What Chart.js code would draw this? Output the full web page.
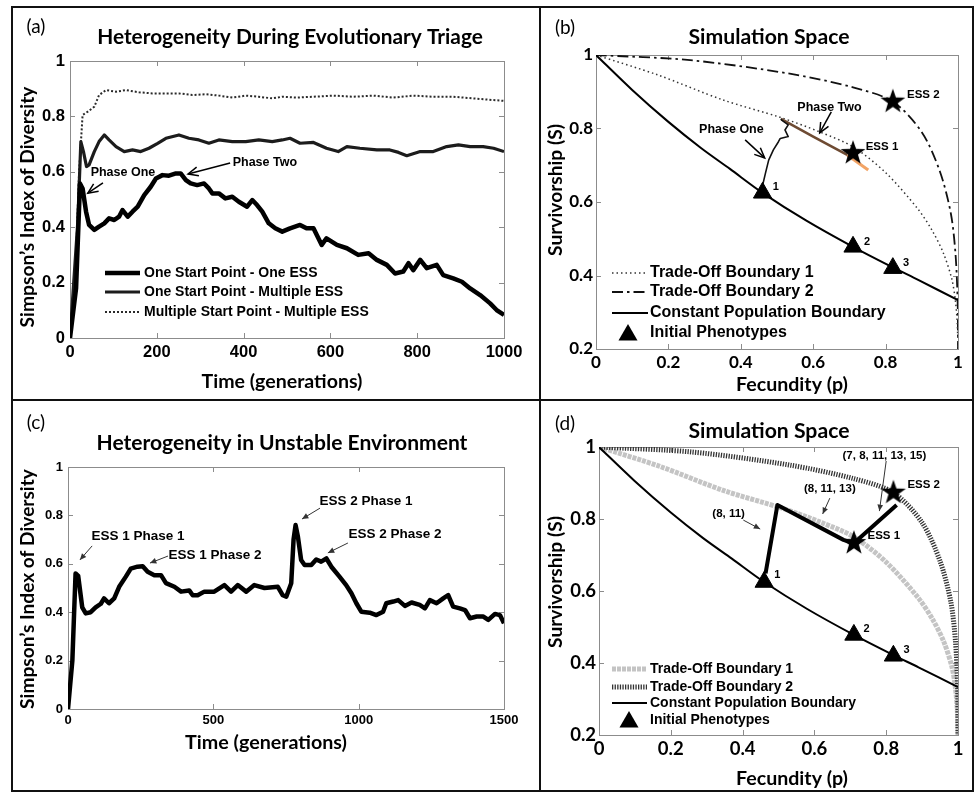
<!DOCTYPE html>
<html>
<head>
<meta charset="utf-8">
<script src="https://cdn.jsdelivr.net/npm/chart.js@4.4.1/dist/chart.umd.min.js"></script>
<style>
  body { margin: 0; background: #fff; }
  #fig { position: relative; width: 976px; height: 794px; }
  #fig canvas { position: absolute; }
  .rule { position: absolute; background: #111; }
</style>
</head>
<body>
<div id="fig">
  <div class="rule" style="left:11px;top:6px;width:963px;height:2px"></div>
  <div class="rule" style="left:11px;top:790px;width:963px;height:2px"></div>
  <div class="rule" style="left:11px;top:6px;width:2px;height:786px"></div>
  <div class="rule" style="left:972px;top:6px;width:2px;height:786px"></div>
  <div class="rule" style="left:539px;top:6px;width:2px;height:786px"></div>
  <div class="rule" style="left:11px;top:399px;width:963px;height:2px"></div>
  <canvas id="chA" width="526" height="391" style="left:13px;top:8px"></canvas>
  <canvas id="chB" width="431" height="391" style="left:541px;top:8px"></canvas>
  <canvas id="chC" width="526" height="389" style="left:13px;top:401px"></canvas>
  <canvas id="chD" width="431" height="389" style="left:541px;top:401px"></canvas>
</div>
<script>
/* diversity runs (a) */
var tOneEss = [0, 14, 23, 29, 37, 44, 56, 67, 79, 90, 102, 113, 121, 133, 144, 156, 171, 186, 198, 213, 228, 244, 255, 267, 278, 293, 309, 320, 328, 343, 358, 374, 389, 408, 420, 431, 443, 458, 473, 489, 507, 530, 545, 561, 580, 591, 615, 638, 664, 688, 707, 730, 749, 768, 780, 791, 807, 822, 845, 860, 883, 903, 922, 945, 968, 983, 1000];
var oneEss = [0, 0.18, 0.558, 0.54, 0.456, 0.408, 0.39, 0.402, 0.414, 0.432, 0.426, 0.438, 0.462, 0.438, 0.456, 0.474, 0.516, 0.546, 0.576, 0.588, 0.586, 0.594, 0.594, 0.57, 0.558, 0.552, 0.558, 0.54, 0.522, 0.522, 0.504, 0.51, 0.492, 0.474, 0.498, 0.48, 0.456, 0.414, 0.396, 0.384, 0.396, 0.408, 0.396, 0.396, 0.336, 0.36, 0.336, 0.324, 0.30, 0.306, 0.282, 0.264, 0.233, 0.24, 0.27, 0.245, 0.282, 0.252, 0.264, 0.227, 0.215, 0.203, 0.179, 0.155, 0.125, 0.101, 0.083];

var tMultiEss = [0, 18, 25, 31, 38, 44, 56, 67, 79, 90, 106, 125, 144, 163, 182, 202, 221, 251, 274, 297, 320, 343, 374, 405, 435, 466, 489, 507, 530, 561, 591, 618, 638, 668, 707, 737, 757, 776, 807, 837, 868, 895, 922, 952, 976, 1000];
var multiEss = [0, 0.42, 0.709, 0.673, 0.619, 0.625, 0.673, 0.709, 0.733, 0.715, 0.691, 0.673, 0.679, 0.673, 0.685, 0.703, 0.721, 0.733, 0.721, 0.715, 0.703, 0.715, 0.709, 0.709, 0.715, 0.709, 0.715, 0.721, 0.703, 0.706, 0.685, 0.673, 0.691, 0.685, 0.679, 0.679, 0.67, 0.658, 0.673, 0.673, 0.691, 0.697, 0.691, 0.691, 0.685, 0.673];

var tMultiStart = [0, 14, 21, 29, 41, 56, 67, 83, 106, 129, 159, 190, 221, 251, 282, 313, 343, 374, 405, 435, 466, 489, 522, 561, 607, 653, 699, 745, 791, 837, 883, 929, 976, 1000];
var multiStart = [0, 0.30, 0.60, 0.805, 0.817, 0.835, 0.877, 0.895, 0.889, 0.895, 0.887, 0.883, 0.883, 0.883, 0.877, 0.88, 0.875, 0.868, 0.875, 0.871, 0.865, 0.871, 0.868, 0.871, 0.875, 0.871, 0.875, 0.868, 0.875, 0.871, 0.871, 0.865, 0.859, 0.856];

/* unstable environment run (c) */
var tUnstable = [0, 15, 26, 35, 49, 61, 78, 95, 113, 124, 141, 159, 176, 199, 216, 239, 257, 274, 297, 320, 337, 366, 389, 417, 429, 446, 469, 503, 538, 561, 584, 613, 641, 676, 722, 739, 751, 768, 776, 783, 791, 802, 814, 837, 854, 871, 889, 906, 934, 957, 975, 992, 1009, 1038, 1061, 1084, 1095, 1119, 1136, 1159, 1182, 1210, 1228, 1245, 1268, 1291, 1308, 1325, 1348, 1366, 1383, 1406, 1429, 1446, 1469, 1486, 1500];
var unstable = [0, 0.2, 0.56, 0.55, 0.42, 0.395, 0.40, 0.42, 0.435, 0.457, 0.437, 0.457, 0.505, 0.547, 0.58, 0.588, 0.59, 0.567, 0.553, 0.553, 0.52, 0.505, 0.485, 0.49, 0.47, 0.47, 0.485, 0.485, 0.512, 0.485, 0.512, 0.485, 0.512, 0.5, 0.505, 0.47, 0.464, 0.52, 0.70, 0.76, 0.712, 0.616, 0.595, 0.595, 0.618, 0.609, 0.622, 0.588, 0.547, 0.512, 0.478, 0.437, 0.402, 0.398, 0.388, 0.402, 0.437, 0.444, 0.45, 0.426, 0.44, 0.43, 0.416, 0.45, 0.437, 0.457, 0.471, 0.423, 0.416, 0.409, 0.375, 0.382, 0.382, 0.368, 0.393, 0.388, 0.354];

/* simulation space (b, d) */
var pTrade1 = [0, 0.17, 0.35, 0.51, 0.62, 0.71, 0.80, 0.89, 0.93, 0.96, 0.983, 0.993, 0.998, 1.0];
var sTrade1 = [1, 0.946, 0.878, 0.83, 0.79, 0.75, 0.68, 0.58, 0.52, 0.46, 0.39, 0.33, 0.27, 0.2];
var pTrade2 = [0, 0.26, 0.53, 0.71, 0.82, 0.90, 0.95, 0.98, 0.993, 0.999, 1.0];
var sTrade2 = [1, 0.986, 0.95, 0.912, 0.873, 0.79, 0.683, 0.57, 0.46, 0.33, 0.2];
var pConst = [0, 0.1, 0.2, 0.29, 0.37, 0.46, 0.58, 0.71, 0.82, 0.89, 1.0];
var sConst = [1, 0.905, 0.818, 0.747, 0.69, 0.625, 0.55, 0.478, 0.422, 0.388, 0.333];
var pInit = [0.46, 0.71, 0.82];
var sInit = [0.625, 0.478, 0.42];
var pEss = [0.71, 0.82];
var sEss = [0.733, 0.873];

var pPhaseOne = [0.459, 0.468, 0.477, 0.49, 0.504, 0.509, 0.531, 0.522, 0.531, 0.513, 0.511];
var sPhaseOne = [0.64, 0.678, 0.714, 0.742, 0.764, 0.773, 0.778, 0.796, 0.81, 0.823, 0.826];
var pPhaseTwo = [0.511, 0.60, 0.694];
var sPhaseTwo = [0.826, 0.778, 0.728];
var pPhaseEnd = [0.694, 0.752];
var sPhaseEnd = [0.728, 0.687];
var pPathD = [0.464, 0.497, 0.681, 0.709, 0.829];
var sPathD = [0.649, 0.839, 0.742, 0.732, 0.839];

var ARIAL = '"Liberation Sans", Arial, sans-serif';
var LATO = 'Lato, "Open Sans", sans-serif';

function pts(xs, ys) {
  return xs.map(function (x, i) { return {x: x, y: ys[i]}; });
}

// filled five-point star used for the ESS markers
function makeStar(r) {
  var c = document.createElement('canvas');
  c.width = c.height = 2 * r + 2;
  var g = c.getContext('2d');
  g.beginPath();
  for (var i = 0; i < 10; i++) {
    var rad = i % 2 ? r * 0.4 : r;
    var a = -Math.PI / 2 + i * Math.PI / 5;
    g.lineTo(r + 1 + rad * Math.cos(a), r + 1 + rad * Math.sin(a));
  }
  g.closePath();
  g.fillStyle = '#000';
  g.fill();
  return c;
}
var star = makeStar(13);

// line styles, shared by datasets and the hand-drawn legends
var stOne = {color: '#000', width: 4.5};
var stMulti = {color: '#1c1c1c', width: 3.2};
var stStart = {color: '#2a2a2a', width: 2, dash: [2, 2]};
var stTrade1 = {color: '#333', width: 1.5, dash: [1.5, 3]};
var stTrade2 = {color: '#111', width: 1.8, dash: [11, 4, 2.5, 4]};
var stConst = {color: '#000', width: 2};
var stTrade1d = {color: '#c4c4c4', width: 5, dash: [4, 1]};
var stTrade2d = {color: '#333', width: 5, dash: [1.3, 1.3]};

function line(data, st, extra) {
  var d = {data: data, showLine: true, pointRadius: 0, tension: 0, fill: false,
    borderColor: st.color, borderWidth: st.width, borderDash: st.dash || [],
    borderJoinStyle: 'round'};
  return Object.assign(d, extra || {});
}
function triangles() {
  return {data: pts(pInit, sInit), showLine: false, pointStyle: 'triangle', pointRadius: 10.5,
    pointBackgroundColor: '#000', pointBorderColor: '#000', pointBorderWidth: 1};
}
function stars() {
  return {data: pts(pEss, sEss), showLine: false, pointStyle: star, pointRadius: 13};
}

function fitFont(ctx, text, weight, family, target) {
  ctx.font = weight + ' 40px ' + family;
  return 40 * target / ctx.measureText(text).width;
}

function arrow(ctx, x0, y0, x1, y1, a) {
  var ang = Math.atan2(y1 - y0, x1 - x0), h = a.head, s = 0.42;
  ctx.strokeStyle = a.color || '#000';
  ctx.fillStyle = a.color || '#000';
  ctx.lineWidth = a.width;
  ctx.setLineDash([]);
  ctx.beginPath();
  ctx.moveTo(x0, y0);
  ctx.lineTo(x1, y1);
  ctx.stroke();
  ctx.beginPath();
  ctx.moveTo(x1 - h * Math.cos(ang - s), y1 - h * Math.sin(ang - s));
  ctx.lineTo(x1, y1);
  ctx.lineTo(x1 - h * Math.cos(ang + s), y1 - h * Math.sin(ang + s));
  if (a.fill) { ctx.closePath(); ctx.fill(); } else { ctx.stroke(); }
}

// plot box, inward ticks, titles, legend and callouts
function decor(cfg) {
  return {
    id: 'decor',
    beforeDatasetsDraw: function (chart) {
      var ctx = chart.ctx, a = chart.chartArea, x = chart.scales.x, y = chart.scales.y;
      ctx.save();
      ctx.strokeStyle = '#8c8c8c';
      ctx.lineWidth = 1;
      ctx.strokeRect(Math.round(a.left) + 0.5, Math.round(a.top) + 0.5,
        Math.round(a.right - a.left), Math.round(a.bottom - a.top));
      ctx.beginPath();
      x.ticks.forEach(function (t) {
        var px = Math.round(x.getPixelForValue(t.value)) + 0.5;
        ctx.moveTo(px, a.bottom); ctx.lineTo(px, a.bottom - 5);
        ctx.moveTo(px, a.top); ctx.lineTo(px, a.top + 5);
      });
      y.ticks.forEach(function (t) {
        var py = Math.round(y.getPixelForValue(t.value)) + 0.5;
        ctx.moveTo(a.left, py); ctx.lineTo(a.left + 5, py);
        ctx.moveTo(a.right, py); ctx.lineTo(a.right - 5, py);
      });
      ctx.stroke();
      ctx.restore();
    },
    afterDraw: function (chart) {
      var ctx = chart.ctx, xs = chart.scales.x, ys = chart.scales.y;
      var px = function (v) { return xs.getPixelForValue(v); };
      var py = function (v) { return ys.getPixelForValue(v); };
      ctx.save();
      ctx.fillStyle = '#000';
      ctx.textBaseline = 'middle';
      ctx.textAlign = 'center';

      ctx.font = '19px ' + LATO;
      ctx.fillText(cfg.tag[0], cfg.tag[1], cfg.tag[2]);

      [cfg.title, cfg.xTitle].forEach(function (t) {
        ctx.font = 'bold ' + fitFont(ctx, t[0], 'bold', LATO, t[3]) + 'px ' + LATO;
        ctx.fillText(t[0], t[1], t[2]);
      });
      var yt = cfg.yTitle;
      ctx.save();
      ctx.translate(yt[1], yt[2]);
      ctx.rotate(-Math.PI / 2);
      ctx.font = 'bold ' + fitFont(ctx, yt[0], 'bold', LATO, yt[3]) + 'px ' + LATO;
      ctx.fillText(yt[0], 0, 0);
      ctx.restore();

      var lg = cfg.legend;
      lg.items.forEach(function (it, i) {
        var ry = lg.rows[i];
        ctx.save();
        if (it.tri) {
          ctx.beginPath();
          for (var k = 0; k < 3; k++) {
            var ang = -Math.PI / 2 + k * 2 * Math.PI / 3;
            ctx.lineTo(lg.triX + 11 * Math.cos(ang), ry + 2 + 11 * Math.sin(ang));
          }
          ctx.closePath();
          ctx.fill();
        } else {
          ctx.strokeStyle = it.st.color;
          ctx.lineWidth = it.st.width;
          ctx.setLineDash(it.st.dash || []);
          ctx.beginPath();
          ctx.moveTo(lg.x0, ry);
          ctx.lineTo(lg.x1, ry);
          ctx.stroke();
        }
        ctx.restore();
        ctx.textAlign = 'left';
        ctx.font = 'bold ' + lg.size + 'px ' + ARIAL;
        ctx.fillText(it.label, lg.tx, ry);
      });

      cfg.notes.forEach(function (n) {
        ctx.textAlign = n.align || 'center';
        ctx.font = 'bold ' + n.size + 'px ' + ARIAL;
        ctx.fillText(n.text, px(n.at[0]), py(n.at[1]));
      });
      cfg.arrows.forEach(function (a) {
        arrow(ctx, px(a.from[0]), py(a.from[1]), px(a.to[0]), py(a.to[1]), a);
      });
      ctx.restore();
    }
  };
}

function axis(min, max, step, size, font, pad, fixed, isX) {
  return {
    type: 'linear', min: min, max: max,
    grid: {display: false, drawTicks: false},
    border: {display: false},
    ticks: {
      stepSize: step, color: '#000', padding: pad, maxRotation: 0, autoSkip: false,
      font: {family: font, size: size, weight: 'bold'},
      callback: function (v) { return String(Math.round(v * 10) / 10); }
    },
    afterFit: function (s) { if (isX) { s.height = fixed; } else { s.width = fixed; } }
  };
}

function makeChart(id, box, datasets, xAxis, yAxis, cfg) {
  return new Chart(document.getElementById(id), {
    type: 'scatter',
    data: {datasets: datasets},
    options: {
      responsive: false,
      animation: false,
      events: [],
      layout: {padding: {left: box[0], right: box[2], top: box[3], bottom: box[5]}},
      plugins: {legend: {display: false}, tooltip: {enabled: false}},
      scales: {x: xAxis, y: yAxis}
    },
    plugins: [decor(cfg)]
  });
}

// (a) heterogeneity during evolutionary triage
makeChart('chA', [5, 52, 35, 53, 40, 21], [
  line(pts(tOneEss, oneEss), stOne),
  line(pts(tMultiEss, multiEss), stMulti),
  line(pts(tMultiStart, multiStart), stStart)
], axis(0, 1000, 200, 16.5, ARIAL, 5, 40, true), axis(0, 1, 0.2, 16.5, ARIAL, 5, 52, false), {
  tag: ['(a)', 23, 19],
  title: ['Heterogeneity During Evolutionary Triage', 277, 29, 386],
  xTitle: ['Time (generations)', 269, 374, 161],
  yTitle: ['Simpson\u2019s Index of Diversity', 15, 199, 241],
  legend: {x0: 92, x1: 127, tx: 131, size: 14, rows: [265, 284, 304], items: [
    {st: stOne, label: 'One Start Point - One ESS'},
    {st: stMulti, label: 'One Start Point - Multiple ESS'},
    {st: stStart, label: 'Multiple Start Point - Multiple ESS'}
  ]},
  notes: [
    {text: 'Phase One', at: [122, 0.596], size: 12.5},
    {text: 'Phase Two', at: [449, 0.632], size: 12.5}
  ],
  arrows: [
    {from: [76, 0.56], to: [41, 0.523], width: 1.5, head: 11},
    {from: [369, 0.632], to: [272, 0.592], width: 1.5, head: 11}
  ]
});

// (b) simulation space, trade-off boundaries 1 and 2
makeChart('chB', [4, 51, 7, 47, 40, 10], [
  triangles(),
  stars(),
  line(pts(pPhaseOne, sPhaseOne), {color: '#111', width: 1.6}),
  line(pts(pPhaseTwo, sPhaseTwo), {color: '#6e4b33', width: 2.6}),
  line(pts(pPhaseEnd, sPhaseEnd), {color: '#f2a466', width: 3}),
  line(pts(pConst, sConst), stConst, {tension: 0.3}),
  line(pts(pTrade1, sTrade1), stTrade1, {tension: 0.3}),
  line(pts(pTrade2, sTrade2), stTrade2, {tension: 0.3})
], axis(0, 1, 0.2, 17, LATO, 3, 40, true), axis(0.2, 1, 0.2, 17, LATO, 3, 51, false), {
  tag: ['(b)', 24, 20],
  title: ['Simulation Space', 228, 29, 161],
  xTitle: ['Fecundity (p)', 251, 377, 112],
  yTitle: ['Survivorship (S)', 15, 182, 132],
  legend: {x0: 71, x1: 107, tx: 109, triX: 87, size: 16, rows: [265, 284, 305, 325], items: [
    {st: stTrade1, label: 'Trade-Off Boundary 1'},
    {st: stTrade2, label: 'Trade-Off Boundary 2'},
    {st: stConst, label: 'Constant Population Boundary'},
    {tri: true, label: 'Initial Phenotypes'}
  ]},
  notes: [
    {text: 'Phase One', at: [0.374, 0.796], size: 12.5},
    {text: 'Phase Two', at: [0.645, 0.858], size: 12.5},
    {text: 'ESS 1', at: [0.745, 0.75], size: 11.5, align: 'left'},
    {text: 'ESS 2', at: [0.859, 0.891], size: 11.5, align: 'left'},
    {text: '1', at: [0.488, 0.641], size: 11, align: 'left'},
    {text: '2', at: [0.74, 0.491], size: 11, align: 'left'},
    {text: '3', at: [0.848, 0.434], size: 11, align: 'left'}
  ],
  arrows: [
    {from: [0.412, 0.769], to: [0.466, 0.72], width: 1.5, head: 11},
    {from: [0.65, 0.845], to: [0.618, 0.788], width: 1.5, head: 11}
  ]
});

// (c) heterogeneity in an unstable environment
makeChart('chC', [5, 50, 35, 66, 40, 41], [
  line(pts(tUnstable, unstable), {color: '#000', width: 4.5})
], axis(0, 1500, 500, 13, ARIAL, 4, 40, true), axis(0, 1, 0.2, 13, ARIAL, 5, 50, false), {
  tag: ['(c)', 23, 22],
  title: ['Heterogeneity in Unstable Environment', 269, 42, 371],
  xTitle: ['Time (generations)', 253, 342, 162],
  yTitle: ['Simpson\u2019s Index of Diversity', 15, 188, 240],
  legend: {items: []},
  notes: [
    {text: 'ESS 1 Phase 1', at: [241, 0.715], size: 13.5},
    {text: 'ESS 1 Phase 2', at: [506, 0.636], size: 13.5},
    {text: 'ESS 2 Phase 1', at: [1025, 0.86], size: 13.5},
    {text: 'ESS 2 Phase 2', at: [1125, 0.723], size: 13.5}
  ],
  arrows: [
    {from: [83, 0.674], to: [41, 0.616], width: 1, head: 7, color: '#333', fill: true},
    {from: [344, 0.632], to: [282, 0.603], width: 1, head: 7, color: '#333', fill: true},
    {from: [867, 0.83], to: [805, 0.785], width: 1, head: 7, color: '#333', fill: true},
    {from: [963, 0.686], to: [894, 0.645], width: 1, head: 7, color: '#333', fill: true}
  ]
});

// (d) simulation space, switching between the two boundaries
makeChart('chD', [4, 54, 12, 46, 40, 15], [
  triangles(),
  stars(),
  line(pts(pPathD, sPathD), {color: '#000', width: 4}),
  line(pts(pConst, sConst), stConst, {tension: 0.3}),
  line(pts(pTrade2, sTrade2), stTrade2d, {tension: 0.3}),
  line(pts(pTrade1, sTrade1), stTrade1d, {tension: 0.3})
], axis(0, 1, 0.2, 18.5, LATO, 3, 40, true), axis(0.2, 1, 0.2, 18.5, LATO, 3, 54, false), {
  tag: ['(d)', 24, 23],
  title: ['Simulation Space', 228, 30, 161],
  xTitle: ['Fecundity (p)', 251, 378, 112],
  yTitle: ['Survivorship (S)', 15, 181, 132],
  legend: {x0: 71, x1: 106, tx: 109, triX: 88, size: 14, rows: [268, 286, 302, 319], items: [
    {st: stTrade1d, label: 'Trade-Off Boundary 1'},
    {st: stTrade2d, label: 'Trade-Off Boundary 2'},
    {st: stConst, label: 'Constant Population Boundary'},
    {tri: true, label: 'Initial Phenotypes'}
  ]},
  notes: [
    {text: '(8, 11)', at: [0.361, 0.814], size: 11.5},
    {text: '(8, 11, 13)', at: [0.643, 0.883], size: 11.5},
    {text: '(7, 8, 11, 13, 15)', at: [0.795, 0.975], size: 11.5},
    {text: 'ESS 2', at: [0.859, 0.894], size: 11.5, align: 'left'},
    {text: 'ESS 1', at: [0.748, 0.753], size: 11.5, align: 'left'},
    {text: '1', at: [0.488, 0.644], size: 11, align: 'left'},
    {text: '2', at: [0.737, 0.494], size: 11, align: 'left'},
    {text: '3', at: [0.848, 0.436], size: 11, align: 'left'}
  ],
  arrows: [
    {from: [0.402, 0.797], to: [0.449, 0.772], width: 1, head: 7, color: '#333', fill: true},
    {from: [0.643, 0.858], to: [0.623, 0.814], width: 1, head: 7, color: '#333', fill: true},
    {from: [0.80, 0.961], to: [0.781, 0.822], width: 1, head: 7, color: '#333', fill: true}
  ]
});
</script>
</body>
</html>
